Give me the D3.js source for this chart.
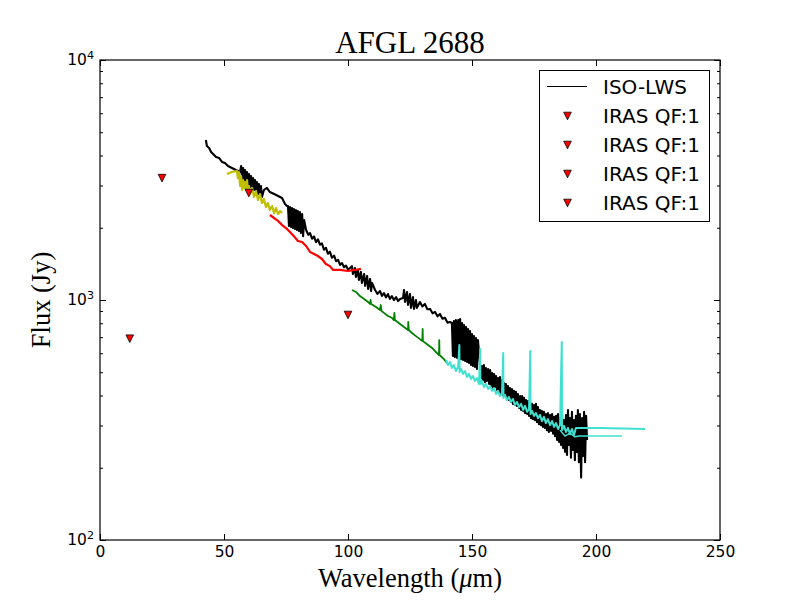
<!DOCTYPE html>
<html>
<head>
<meta charset="utf-8">
<script src="https://cdn.jsdelivr.net/npm/d3@7"></script>
<style>
  body { margin: 0; background: #fff; }
</style>
</head>
<body>
<script>
// ISO-LWS spectrum [wavelength um, flux Jy] (noisy parts as zig-zags)
const isoLws = [
  [42.7,4642],[43.1,4382],[44.0,4300],[44.8,4137],[45.6,4058],[46.8,3943],[48.0,3906],[49.2,3759],
  [50.4,3723],[51.6,3617],[53.2,3550],[54.8,3481],[56.5,3415],
  [56.9,3617],[57.3,3193],[57.7,3550],[58.1,3132],[58.5,3481],[58.9,3072],[59.3,3415],[59.7,3013],
  [60.1,3350],[60.5,2956],[60.9,3286],[61.3,2900],[61.7,3223],[62.1,2873],[62.5,3162],[62.9,2818],
  [63.3,3102],[63.7,2764],[64.1,3043],[64.5,2712],[64.9,2985],[65.3,2686],
  [66.1,2873],[67.3,2929],[68.5,2818],[70.2,2764],[71.8,2712],[73.4,2660],[74.6,2511],[75.4,2463],
  [75.8,2463],[76.2,2033],[76.6,2440],[77.0,2014],[77.4,2417],[77.8,1995],[78.2,2394],[78.6,1976],
  [79.0,2371],[79.4,1957],[79.8,2348],[80.2,1938],[80.6,2326],[81.0,1901],[81.5,2281],[81.9,1845],[82.3,2154],
  [83.1,1957],[84.0,1870],[84.7,1900],[85.5,1800],[86.3,1840],[87.1,1740],[87.9,1790],[88.7,1700],
  [89.5,1720],[90.3,1620],[91.1,1650],[91.9,1560],[92.7,1590],[93.5,1500],[94.4,1530],[95.2,1450],
  [96.0,1470],[96.8,1400],[97.6,1425],[98.4,1370],[99.2,1390],[100.0,1340],[100.8,1358],
  [101.6,1384],[102.0,1283],[102.8,1358],[103.2,1247],[104.0,1334],[104.4,1212],[105.2,1309],[105.6,1178],
  [106.5,1283],[106.9,1145],[107.7,1260],[108.1,1112],[108.9,1224],[109.3,1090],[109.7,1178],
  [110.9,1101],[111.9,1060],[112.9,1090],[113.7,1040],[114.5,1069],[115.3,1025],[116.1,1059],[116.9,1010],
  [117.7,1038],[118.5,1000],[119.4,1028],[120.2,990],[121.0,1010],[122.2,1019],
  [122.6,1101],[123.0,981],[123.8,1080],[124.2,954],[125.0,1059],[125.4,927],[126.2,1028],[126.6,918],
  [127.4,1000],[127.8,927],
  [129.0,981],[130.0,940],[131.0,963],[132.0,915],[133.1,918],[134.1,880],[135.1,892],[136.1,855],
  [137.1,875],[138.1,835],[139.1,843],[140.1,805],[141.1,810],
  [141.9,802],[142.3,584],[142.7,817],[143.1,578],[143.5,825],[144.0,573],[144.4,825],[144.8,573],
  [145.2,833],[145.6,567],[146.0,802],[146.4,562],[146.8,787],[147.2,557],[147.6,772],[148.0,552],
  [148.4,757],[148.8,546],[149.2,743],[149.6,536],[150.0,721],[150.4,531],[150.8,707],[151.2,526],
  [151.6,694],[152.0,516],[152.4,681],
  [153.2,541],[153.6,473],[154.0,531],[154.4,464],[154.8,536],[155.2,455],[155.6,521],[156.0,460],
  [156.5,516],[156.9,447],[157.3,511],[157.7,438],[158.1,496],[158.5,430],[158.9,492],[159.3,434],
  [159.7,482],[160.1,422],[160.5,473],[160.9,414],[161.3,478],[161.7,406],[162.1,464],[162.5,402],
  [162.9,451],[163.3,398],[163.7,447],[164.1,391],[164.5,438],[164.9,383],[165.3,430],[165.7,376],
  [166.1,426],[166.5,369],[166.9,418],[167.3,365],[167.7,414],[168.1,362],[168.5,406],[169.0,355],
  [169.4,398],[169.8,348],[170.2,398],[170.6,345],[171.0,391],[171.4,338],[171.8,383],[172.2,335],
  [172.6,379],[173.0,329],[173.4,372],[173.8,322],[174.2,369],[174.6,319],[175.0,365],[175.4,316],
  [175.8,369],[176.2,310],[176.6,358],[177.0,304],[177.4,348],[177.8,301],[178.2,345],[178.6,296],
  [179.0,342],[179.4,293],[179.8,335],[180.2,287],[180.6,338],[181.0,282],[181.5,332],[181.9,285],
  [182.3,335],[182.7,277],[183.1,326],[183.5,271],[183.9,329],[184.3,261],[184.7,335],[185.1,256],
  [185.5,322],[185.9,249],[186.3,342],[186.7,242],[187.1,316],[187.5,233],[187.9,332],[188.3,226],
  [188.7,348],[189.1,249],[189.5,322],[189.9,220],[190.3,342],[190.7,237],[191.1,316],[191.5,215],
  [191.9,329],[192.3,233],[192.7,348],[193.1,211],[193.5,335],[194.0,182],[194.4,322],[194.8,224],
  [195.2,342],[195.6,211],[196.0,329],[196.4,261]
];

// other spectral pieces
const specYellow = [
  [51.2,3350],[53.2,3415],[55.2,3448],[55.6,3223],[56.0,3415],[56.5,2985],[56.9,3286],[57.3,2873],
  [57.7,3162],[58.1,2929],[58.5,3102],[58.9,2873],[59.3,3162],[59.7,2791],[60.1,2985],[60.5,2764],
  [61.3,2929],[62.1,2686],[62.9,2845],[63.7,2610],[64.5,2764],[65.3,2536],[66.1,2636],[66.9,2440],
  [67.7,2536],[68.5,2371],[69.4,2463],[70.2,2304],[71.0,2417],[71.8,2281],[72.6,2348],[73.4,2304]
];
const specRed = [
  [68.5,2260],[70.2,2196],[71.8,2134],[73.4,2053],[75.0,1995],[76.6,1920],[78.2,1845],[79.8,1761],
  [81.5,1744],[83.1,1679],[84.7,1585],[86.3,1555],[87.9,1525],[89.5,1482],[91.1,1413],[92.7,1384],
  [94.0,1334],[96.8,1334],[100.0,1321],[102.8,1334],[105.2,1347]
];
const specGreen = [
  [101.6,1101],[103.2,1080],[104.8,1038],[106.5,1010],[108.1,981],[108.9,963],[109.1,1000],[109.3,963],
  [111.3,935],[112.9,909],[113.2,953],[113.5,900],[114.5,884],[116.1,858],[117.7,843],[118.5,825],
  [118.7,884],[118.9,825],[121.0,795],[122.6,772],[124.2,750],[124.3,810],[124.5,750],[125.8,728],
  [127.4,707],[129.0,687],[130.0,674],[130.1,757],[130.2,674],[132.3,649],[133.9,631],[135.5,607],
  [136.7,590],[136.8,681],[136.9,590],[138.7,567],[139.9,546]
];
const specCyan = [
  [139.5,562],[140.3,536],[141.1,552],[141.9,521],[142.7,536],[143.5,506],[144.4,526],[144.9,649],
  [145.0,501],[145.6,516],[146.4,492],[147.2,506],[148.0,478],[148.8,492],[149.6,469],[150.4,482],
  [151.2,460],[152.0,473],[152.8,447],[153.3,625],[153.4,447],[154.0,460],[154.8,434],[155.6,447],
  [156.5,426],[157.3,438],[158.1,418],[158.9,430],[159.7,406],[160.5,418],[161.3,398],[162.1,410],
  [162.6,601],[162.7,391],[163.3,402],[164.1,383],[164.9,394],[165.7,376],[166.5,387],[167.3,365],
  [168.1,376],[169.0,358],[169.8,369],[170.6,348],[171.4,362],[172.2,342],[173.0,351],[173.5,613],
  [173.6,335],[174.2,345],[175.0,329],[175.8,338],[176.6,322],[177.4,332],[178.2,313],[179.0,326],
  [179.8,307],[180.6,319],[181.5,301],[182.3,313],[183.1,296],[183.9,307],[184.7,290],[185.5,301],
  [186.2,668],[186.3,287],[187.1,299],[187.9,282],[188.7,293],[189.5,277],[190.3,290],[191.1,274],
  [191.9,293],[193.5,293],[201.6,293],[219.8,290]
];
const specCyanTail = [
  [185.5,287],[187.5,271],[189.5,279],[191.5,269],[193.5,271],[195.6,271],[210.5,271]
];

// IRAS photometry
const irasWave = [12, 25, 60, 100];
const irasFlux = [690, 3220, 2790, 866];
const irasLabels = ["IRAS QF:1", "IRAS QF:1", "IRAS QF:1", "IRAS QF:1"];

const xTicks = [0, 50, 100, 150, 200, 250];
const yMajor = [100, 1000, 10000];

const W = 800, H = 600;
const margin = { top: 60, right: 80, bottom: 60, left: 100 };

const svg = d3.select('body').append('svg')
  .attr('width', W)
  .attr('height', H);

const x = d3.scaleLinear().domain([0, 250]).range([margin.left, W - margin.right]);
const y = d3.scaleLog().domain([100, 10000]).range([H - margin.bottom, margin.top]);
const yMinor = y.ticks().filter(v => !yMajor.includes(v));

const line = d3.line().x(d => x(d[0])).y(d => y(d[1]));

const series = [
  { data: isoLws, color: '#000000', w: 2.1 },
  { data: specYellow, color: '#bfbf00', w: 2.2 },
  { data: specRed, color: '#ff0000', w: 2.2 },
  { data: specGreen, color: '#008000', w: 1.8 },
  { data: specCyan, color: '#40e0d0', w: 2 },
  { data: specCyanTail, color: '#40e0d0', w: 1.5 }
];

svg.selectAll('.spec')
  .data(series)
  .enter().append('path')
  .attr('class', 'spec')
  .attr('d', d => line(d.data))
  .attr('fill', 'none')
  .attr('stroke', d => d.color)
  .attr('stroke-width', d => d.w)
  .attr('stroke-linejoin', 'round');

// IRAS triangles (down)
const tri = 'M-3.8,-3.8L3.8,-3.8L0,3.8Z';
svg.selectAll('.iras')
  .data(irasWave.map((w, i) => [w, irasFlux[i]]))
  .enter().append('path')
  .attr('class', 'iras')
  .attr('d', tri)
  .attr('transform', d => 'translate(' + x(d[0]) + ',' + y(d[1]) + ')')
  .attr('fill', '#ff0000')
  .attr('stroke', '#000')
  .attr('stroke-width', 0.8);

// axes, ticks pointing inward on all sides
function styleAxis(g) {
  g.select('.domain').remove();
  g.selectAll('line').attr('stroke', '#000').attr('stroke-width', 1);
  g.attr('font-family', 'DejaVu Sans').attr('font-size', 15.5);
  g.selectAll('text').attr('fill', '#000');
}

svg.append('g')
  .attr('transform', 'translate(0,' + (H - margin.bottom) + ')')
  .call(d3.axisBottom(x).tickValues(xTicks).tickSizeInner(-6).tickSizeOuter(0).tickPadding(6))
  .call(styleAxis);

svg.append('g')
  .attr('transform', 'translate(0,' + margin.top + ')')
  .call(d3.axisTop(x).tickValues(xTicks).tickSizeInner(-6).tickSizeOuter(0).tickFormat(''))
  .call(styleAxis);

const leftMajor = svg.append('g')
  .attr('transform', 'translate(' + margin.left + ',0)')
  .call(d3.axisLeft(y).tickValues(yMajor).tickSizeInner(-6).tickSizeOuter(0).tickPadding(6))
  .call(styleAxis);

leftMajor.selectAll('text').each(function(d) {
  const t = d3.select(this).text(null);
  t.append('tspan').text('10');
  t.append('tspan').attr('dy', '-0.6em').attr('font-size', '72%').text(Math.round(Math.log10(d)));
});

svg.append('g')
  .attr('transform', 'translate(' + margin.left + ',0)')
  .call(d3.axisLeft(y).tickValues(yMinor).tickSizeInner(-3).tickSizeOuter(0).tickFormat(''))
  .call(styleAxis);

svg.append('g')
  .attr('transform', 'translate(' + (W - margin.right) + ',0)')
  .call(d3.axisRight(y).tickValues(yMajor).tickSizeInner(-6).tickSizeOuter(0).tickFormat(''))
  .call(styleAxis);

svg.append('g')
  .attr('transform', 'translate(' + (W - margin.right) + ',0)')
  .call(d3.axisRight(y).tickValues(yMinor).tickSizeInner(-3).tickSizeOuter(0).tickFormat(''))
  .call(styleAxis);

// frame
svg.append('rect')
  .attr('x', margin.left)
  .attr('y', margin.top)
  .attr('width', W - margin.left - margin.right)
  .attr('height', H - margin.top - margin.bottom)
  .attr('fill', 'none')
  .attr('stroke', '#000')
  .attr('stroke-width', 1.2);

// title and axis labels
svg.append('text')
  .attr('x', 410).attr('y', 52.5)
  .attr('text-anchor', 'middle')
  .attr('font-family', 'Liberation Serif')
  .attr('font-size', 31)
  .text('AFGL 2688');

const xl = svg.append('text')
  .attr('x', 410).attr('y', 587)
  .attr('text-anchor', 'middle')
  .attr('font-family', 'Liberation Serif')
  .attr('font-size', 26.5);
xl.append('tspan').text('Wavelength (');
xl.append('tspan').attr('font-style', 'italic').text('μ');
xl.append('tspan').text('m)');

svg.append('text')
  .attr('transform', 'translate(50,300) rotate(-90)')
  .attr('text-anchor', 'middle')
  .attr('font-family', 'Liberation Serif')
  .attr('font-size', 26.5)
  .text('Flux (Jy)');

// legend
const legend = svg.append('g').attr('font-family', 'DejaVu Sans').attr('font-size', 20);
legend.append('rect')
  .attr('x', 539.5).attr('y', 70.5)
  .attr('width', 170).attr('height', 151)
  .attr('fill', '#fff')
  .attr('stroke', '#000')
  .attr('stroke-width', 1);

legend.append('line')
  .attr('x1', 547).attr('x2', 587)
  .attr('y1', 86.5).attr('y2', 86.5)
  .attr('stroke', '#000').attr('stroke-width', 1);
legend.append('text').attr('x', 603).attr('y', 94).text('ISO-LWS');

irasLabels.forEach((lab, i) => {
  const cy = 116 + i * 29;
  legend.append('path')
    .attr('d', tri)
    .attr('transform', 'translate(567.5,' + cy + ')')
    .attr('fill', '#ff0000')
    .attr('stroke', '#000')
    .attr('stroke-width', 0.8);
  legend.append('text').attr('x', 603).attr('y', cy + 7).text(lab);
});
</script>
</body>
</html>
